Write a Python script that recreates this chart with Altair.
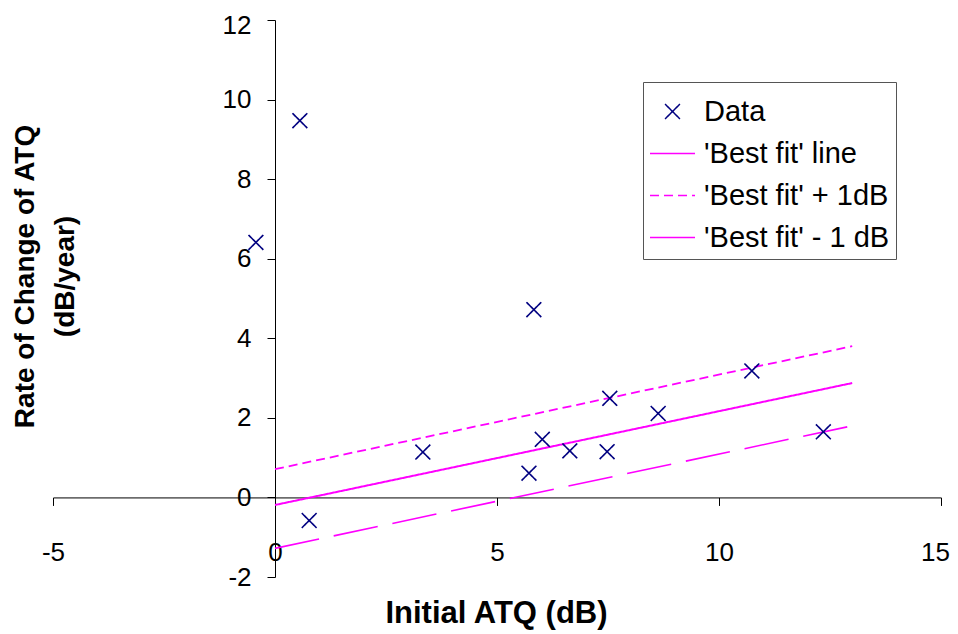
import altair as alt
import pandas as pd

# ---- data ----
data_x = [0.56, -0.43, 0.77, 3.33, 5.83, 5.72, 6.02, 6.64, 7.48, 7.54, 8.63, 10.74, 12.35]
data_y = [9.47, 6.41, -0.58, 1.14, 4.72, 0.61, 1.46, 1.17, 1.15, 2.49, 2.11, 3.18, 1.65]

series_names = ["Data", "'Best fit' line", "'Best fit' + 1dB", "'Best fit' - 1 dB"]
line_series = series_names[1:]

line_x = [0, 13]
best_y = [-0.19, 2.875]
upper_y = [0.71, 3.80]
lower_y = [-1.28, 1.80]

x_ticks = [-5, 0, 5, 10, 15]
y_ticks = [-2, 0, 2, 4, 6, 8, 10, 12]

x_domain = [-5, 15]
y_domain = [-2, 12]

# ---- tables ----
df_pts = pd.DataFrame({"x": data_x, "y": data_y, "series": ["Data"] * len(data_x)})
rows = []
for name, ys in zip(line_series, [best_y, upper_y, lower_y]):
    for xv, yv in zip(line_x, ys):
        rows.append({"x": xv, "y": yv, "series": name})
df_lines = pd.DataFrame(rows)

W, H = 888, 557
FONT = "Liberation Sans"
NAVY = "#000080"
MAGENTA = "#FF00FF"
X_PATH = "M-0.33,-0.33L0.33,0.33M-0.33,0.33L0.33,-0.33"

x_off = -W * (0 - x_domain[0]) / (x_domain[1] - x_domain[0])
y_off = -H * (0 - y_domain[0]) / (y_domain[1] - y_domain[0])

xscale = alt.Scale(domain=x_domain, nice=False, zero=False)
yscale = alt.Scale(domain=y_domain, nice=False, zero=False)

xaxis = alt.Axis(
    values=x_ticks, offset=y_off, grid=False,
    domainColor="black", domainWidth=1, tickColor="black", tickSize=8, tickWidth=1,
    labelFont=FONT, labelFontSize=26, labelColor="black", labelPadding=33.6,
    labelFlush=False, labelOverlap=False, labelExpr="'' + datum.value",
    labelOffset=alt.condition("datum.value == 15", alt.value(-6), alt.value(0)),
    title="Initial ATQ (dB)", titleFont=FONT, titleFontSize=31, titleFontWeight="bold",
    titleColor="black", titleX=443, titleY=125, titleAlign="center",
    titleBaseline="alphabetic",
)
yaxis = alt.Axis(
    values=y_ticks, offset=x_off, grid=False,
    domainColor="black", domainWidth=1, tickColor="black", tickSize=8, tickWidth=1,
    labelFont=FONT, labelFontSize=26, labelColor="black", labelPadding=16,
    labelOverlap=False, labelExpr="'' + datum.value",
    labelOffset=alt.condition("datum.value == 12", alt.value(5), alt.value(0)),
    title=["Rate of Change of ATQ", "(dB/year)"], titleFont=FONT, titleFontSize=28,
    titleFontWeight="bold", titleColor="black", titleX=-242, titleY=256,
    titleAlign="center", titleBaseline="alphabetic", titleAngle=270, titleLineHeight=40,
)

legend = alt.Legend(
    title=None, orient="none", legendX=590, legendY=62, padding=6,
    strokeColor="#555555", fillColor="white",
    labelFont=FONT, labelFontSize=29, labelColor="black", labelLimit=400, labelOffset=8,
    symbolSize=2025, symbolStrokeWidth=1.5, rowPadding=3,
)

lines = alt.Chart(df_lines).mark_line().encode(
    x=alt.X("x:Q", scale=xscale, axis=xaxis),
    y=alt.Y("y:Q", scale=yscale, axis=yaxis),
    color=alt.Color("series:N", scale=alt.Scale(domain=line_series, range=[MAGENTA] * 3), legend=None),
    strokeDash=alt.StrokeDash("series:N", scale=alt.Scale(domain=line_series, range=[[1, 0], [9, 5], [45, 15]]), legend=None),
    strokeWidth=alt.StrokeWidth("series:N", scale=alt.Scale(domain=line_series, range=[2, 1.6, 1.4]), legend=None),
)

points = alt.Chart(df_pts).mark_point(filled=False, size=2025, strokeWidth=1.6, opacity=1).encode(
    x=alt.X("x:Q", scale=xscale, axis=xaxis),
    y=alt.Y("y:Q", scale=yscale, axis=yaxis),
    color=alt.Color("series:N", scale=alt.Scale(domain=series_names, range=[NAVY, MAGENTA, MAGENTA, MAGENTA]), legend=legend),
    shape=alt.Shape("series:N", scale=alt.Scale(domain=series_names, range=[X_PATH, "stroke", "stroke", "stroke"]), legend=legend),
    strokeDash=alt.StrokeDash("series:N", scale=alt.Scale(domain=series_names, range=[[1, 0], [1, 0], [9, 5], [45, 15]]), legend=legend),
)

chart = alt.layer(lines, points).resolve_scale(
    color="independent", strokeDash="independent", shape="independent"
).resolve_legend(
    color="independent", strokeDash="independent", shape="independent"
).properties(
    width=W, height=H,
    autosize=alt.AutoSizeParams(type="none"),
    padding={"left": 45, "top": 12, "right": 9, "bottom": 57},
    background="white",
).configure_view(strokeWidth=0)

chart.save("out.html", embed_options={"renderer": "svg", "actions": False})
